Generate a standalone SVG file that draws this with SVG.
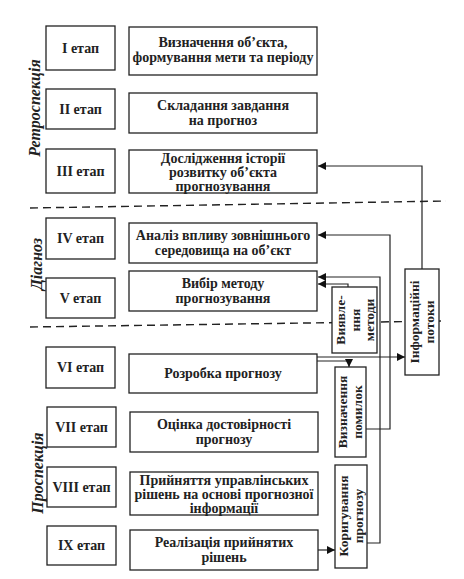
<svg xmlns="http://www.w3.org/2000/svg" width="464" height="579" viewBox="0 0 464 579">
<defs>
<marker id="ah" viewBox="0 0 10 10" refX="10" refY="5" markerWidth="9" markerHeight="8" markerUnits="userSpaceOnUse" orient="auto">
<path d="M0 0 L10 5 L0 10 z" fill="#111"/>
</marker>
<style>
.bx{fill:#fff;stroke:#222;stroke-width:1.3}
.t{font-family:"Liberation Serif","Times New Roman",serif;font-size:14px;font-weight:bold;fill:#222;text-anchor:middle}
.r{font-family:"Liberation Serif","Times New Roman",serif;font-size:13.5px;font-weight:bold;fill:#222;text-anchor:middle}
.side{font-family:"Liberation Serif","Times New Roman",serif;font-size:16px;font-style:italic;font-weight:bold;fill:#222;text-anchor:middle}
.dash{stroke:#222;stroke-width:1.4;stroke-dasharray:8 5;fill:none}
.c{stroke:#222;stroke-width:1.2;fill:none}
</style>
</defs>
<rect width="464" height="579" fill="#fff"/>
<g id="separators">
<line class="dash" x1="30" y1="208" x2="446" y2="201"/>
<line class="dash" x1="30" y1="327" x2="446" y2="321"/>
</g>
<g id="side-labels">
<text class="side" transform="translate(40,108) rotate(-90)">Ретроспекція</text>
<text class="side" transform="translate(42,264) rotate(-90)">Діагноз</text>
<text class="side" transform="translate(43,473) rotate(-90)">Проспекція</text>
</g>
<g id="connectors">
<path class="c" d="M422 269 V166 H318" marker-end="url(#ah)"/>
<path class="c" d="M366 429 H390 V235 H318" marker-end="url(#ah)"/>
<path class="c" d="M367 543 H380 V277 H318" marker-end="url(#ah)"/>
<path class="c" d="M348 287 V284 H318" marker-end="url(#ah)"/>
<path class="c" d="M317 357 H405" marker-end="url(#ah)"/>
<path class="c" d="M317 361 H349 V367" marker-end="url(#ah)"/>
<path class="c" d="M317 550 H335" marker-end="url(#ah)"/>
</g>
<g id="stage1">
<rect class="bx" x="46" y="26" width="69" height="44"/>
<text class="t" x="80.5" y="53">I етап</text>
<rect class="bx" x="129" y="27" width="188" height="48"/>
<text class="t" x="223" y="47">Визначення об’єкта,</text>
<text class="t" x="223" y="62">формування мети та періоду</text>
</g>
<g id="stage2">
<rect class="bx" x="46" y="89" width="69" height="40"/>
<text class="t" x="80.5" y="114">II етап</text>
<rect class="bx" x="129" y="93" width="188" height="40"/>
<text class="t" x="223" y="110">Складання завдання</text>
<text class="t" x="223" y="125">на прогноз</text>
</g>
<g id="stage3">
<rect class="bx" x="46" y="149" width="69" height="44"/>
<text class="t" x="80.5" y="176">III етап</text>
<rect class="bx" x="129" y="150" width="188" height="43"/>
<text class="t" x="223" y="163">Дослідження історії</text>
<text class="t" x="223" y="177">розвитку об’єкта</text>
<text class="t" x="223" y="191">прогнозування</text>
</g>
<g id="stage4">
<rect class="bx" x="46" y="218" width="69" height="41"/>
<text class="t" x="80.5" y="243">IV етап</text>
<rect class="bx" x="129" y="223" width="188" height="40"/>
<text class="t" x="223" y="240">Аналіз впливу зовнішнього</text>
<text class="t" x="223" y="255">середовища на об’єкт</text>
</g>
<g id="stage5">
<rect class="bx" x="46" y="278" width="69" height="40"/>
<text class="t" x="80.5" y="303">V етап</text>
<rect class="bx" x="129" y="271" width="188" height="40"/>
<text class="t" x="223" y="288">Вибір методу</text>
<text class="t" x="223" y="303">прогнозування</text>
</g>
<g id="stage6">
<rect class="bx" x="46" y="347" width="69" height="41"/>
<text class="t" x="80.5" y="372">VI етап</text>
<rect class="bx" x="129" y="354" width="188" height="39"/>
<text class="t" x="223" y="378">Розробка прогнозу</text>
</g>
<g id="stage7">
<rect class="bx" x="47" y="407" width="69" height="40"/>
<text class="t" x="81.5" y="432">VII етап</text>
<rect class="bx" x="130" y="412" width="188" height="40"/>
<text class="t" x="224" y="429">Оцінка достовірності</text>
<text class="t" x="224" y="444">прогнозу</text>
</g>
<g id="stage8">
<rect class="bx" x="47" y="467" width="69" height="40"/>
<text class="t" x="81.5" y="492">VIII етап</text>
<rect class="bx" x="130" y="472" width="188" height="43"/>
<text class="t" x="224" y="485">Прийняття управлінських</text>
<text class="t" x="224" y="499">рішень на основі прогнозної</text>
<text class="t" x="224" y="513">інформації</text>
</g>
<g id="stage9">
<rect class="bx" x="47" y="526" width="69" height="39"/>
<text class="t" x="81.5" y="550">IX етап</text>
<rect class="bx" x="130" y="530" width="188" height="40"/>
<text class="t" x="224" y="547">Реалізація прийнятих</text>
<text class="t" x="224" y="562">рішень</text>
</g>
<g id="detect-methods">
<rect class="bx" x="332" y="287" width="45" height="66"/>
<text class="r" transform="translate(354.5,320) rotate(-90)"><tspan x="0" y="-10">Виявле-</tspan><tspan x="0" y="5">ння</tspan><tspan x="0" y="19">методи</tspan></text>
</g>
<g id="info-flows">
<rect class="bx" x="405" y="269" width="34" height="106"/>
<text class="r" transform="translate(422,322) rotate(-90)"><tspan x="0" y="-3.5">Інформаційні</tspan><tspan x="0" y="11.5">потоки</tspan></text>
</g>
<g id="errors">
<rect class="bx" x="335" y="367" width="31" height="90"/>
<text class="r" transform="translate(350.5,412) rotate(-90)"><tspan x="0" y="-3.5">Визначення</tspan><tspan x="0" y="11.5">помилок</tspan></text>
</g>
<g id="correction">
<rect class="bx" x="335" y="465" width="32" height="103"/>
<text class="r" transform="translate(351,516) rotate(-90)"><tspan x="0" y="-3.5">Коригування</tspan><tspan x="0" y="11.5">прогнозу</tspan></text>
</g>
</svg>
